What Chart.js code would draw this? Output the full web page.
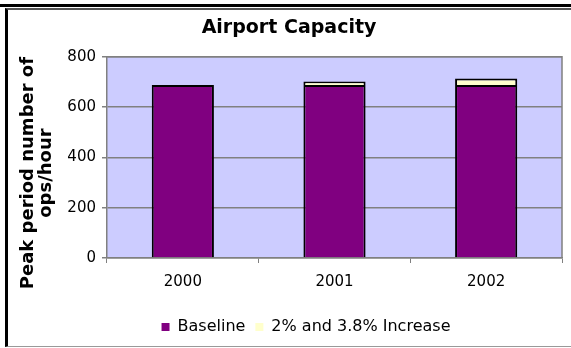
<!DOCTYPE html>
<html>
<head>
<meta charset="utf-8">
<script src="https://cdn.jsdelivr.net/npm/chart.js@4/dist/chart.umd.min.js"></script>
<style>
  body { margin: 0; background: #fff; }
  #wrap { position: relative; width: 571px; height: 348px; }
  #topLine { position: absolute; left: 0; top: 4px; width: 571px; height: 3px; background: #000; }
  #frame { position: absolute; left: 5px; top: 8px; width: 563px; height: 336px;
           border-top: 2px solid #555; border-left: 3px solid #000; border-bottom: 1px solid #999; }
  #graficoContainer { position: absolute; left: 0; top: 0; width: 571px; height: 348px; }
</style>
</head>
<body>
<div id="wrap">
  <div id="topLine"></div>
  <div id="frame"></div>
  <div id="graficoContainer"><canvas id="grafico" width="571" height="348"></canvas></div>
</div>
<script>
const years = ['2000', '2001', '2002'];
const baseline = [688, 688, 688];
const increase = [null, 14, 26];
const yTicks = [0, 200, 400, 600, 800];

const fuente = "'DejaVu Sans', Verdana, sans-serif";

// fondo lila del area de trazado y borde gris arriba/derecha
const fondoPlot = {
    id: 'fondoPlot',
    beforeDraw(chart) {
        const { ctx, chartArea: a } = chart;
        ctx.save();
        ctx.fillStyle = '#CCCCFF';
        ctx.fillRect(a.left, a.top, a.right - a.left, a.bottom - a.top);
        ctx.restore();
    },
    afterDraw(chart) {
        const { ctx, chartArea: a } = chart;
        ctx.save();
        ctx.strokeStyle = '#808080';
        ctx.lineWidth = 1.5;
        ctx.beginPath();
        ctx.moveTo(a.left, a.top);
        ctx.lineTo(a.right, a.top);
        ctx.lineTo(a.right, a.bottom);
        ctx.stroke();
        ctx.restore();
    },
    afterUpdate(chart) {
        // mover la leyenda un poco a la derecha
        chart.legend.left += 17;
        chart.legend.right += 17;
    }
};

const chart = new Chart(document.getElementById('grafico').getContext('2d'), {
    type: 'bar',
    data: {
        labels: years,
        datasets: [
            {
                label: 'Baseline',
                data: baseline,
                backgroundColor: '#800080',
                borderColor: '#000',
                borderWidth: 2
            },
            {
                label: '2% and 3.8% Increase',
                data: increase,
                backgroundColor: '#FFFFCC',
                borderColor: '#000',
                borderWidth: 2
            }
        ]
    },
    options: {
        responsive: false,
        animation: false,
        datasets: { bar: { barPercentage: 0.41, categoryPercentage: 1 } },
        layout: { padding: { left: 16, right: 9, top: 10, bottom: 3 } },
        plugins: {
            title: {
                display: true,
                text: 'Airport Capacity',
                color: '#000',
                font: { family: fuente, size: 19, weight: 'bold', lineHeight: 1.2 },
                padding: { top: 7, bottom: 17 }
            },
            legend: {
                position: 'bottom',
                labels: {
                    color: '#000',
                    font: { family: fuente, size: 16 },
                    boxWidth: 8,
                    boxHeight: 8,
                    padding: 10,
                    generateLabels(chart) {
                        const items = Chart.defaults.plugins.legend.labels.generateLabels(chart);
                        items.forEach(it => { it.lineWidth = 0; });
                        return items;
                    }
                }
            },
            tooltip: { enabled: false }
        },
        scales: {
            x: {
                stacked: true,
                afterFit(scale) { scale.height = 51; },
                grid: { offset: true, drawOnChartArea: false, drawTicks: true, tickLength: 5, color: '#808080' },
                border: { color: '#808080', width: 1.5 },
                ticks: { color: '#000', padding: 10, font: { family: fuente, size: 15 } }
            },
            y: {
                stacked: true,
                min: 0,
                max: 800,
                afterFit(scale) { scale.width = 91; },
                afterBuildTicks(scale) { scale.ticks = yTicks.map(v => ({ value: v })); },
                grid: { color: '#808080', lineWidth: 1.5, tickLength: 5 },
                border: { color: '#808080', width: 1.5 },
                ticks: { color: '#000', padding: 6, font: { family: fuente, size: 15 } },
                title: {
                    display: true,
                    // espacios al final para bajar el texto como en el original
                    text: ['Peak period number of     ', 'ops/hour     '],
                    color: '#000',
                    font: { family: fuente, size: 18, weight: 'bold', lineHeight: 1.0 },
                    padding: { top: 3, bottom: 0 }
                }
            }
        }
    },
    plugins: [fondoPlot]
});
</script>
</body>
</html>
